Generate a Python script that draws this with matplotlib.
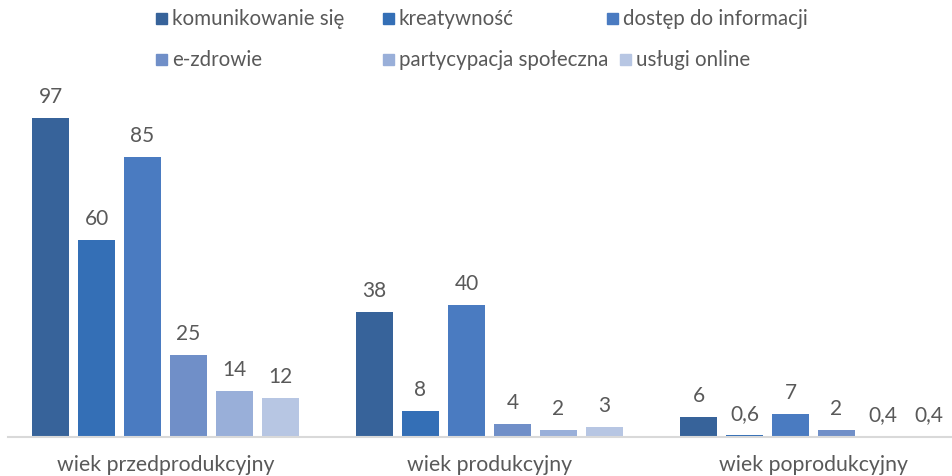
import matplotlib
matplotlib.use("Agg")
import matplotlib.pyplot as plt
import numpy as np
from matplotlib.patches import Rectangle

plt.rcParams['font.family'] = ['Lato', 'DejaVu Sans']

categories = ["wiek przedprodukcyjny", "wiek produkcyjny", "wiek poprodukcyjny"]
series_names = ["komunikowanie się", "kreatywność", "dostęp do informacji",
                "e-zdrowie", "partycypacja społeczna", "usługi online"]
komunikowanie = [97, 38, 6]
kreatywnosc = [60, 8, 0.6]
dostep = [85, 40, 7]
e_zdrowie = [25, 4, 2]
partycypacja = [14, 2, 0.4]
uslugi = [12, 3, 0.4]
series_values = [komunikowanie, kreatywnosc, dostep, e_zdrowie, partycypacja, uslugi]

colors = ["#37639A", "#346FB6", "#4A7BC1", "#708FC8", "#99AFD9", "#B7C6E3"]
text_color = "#595959"

W, H = 953, 477
fig = plt.figure(figsize=(W / 100, H / 100), dpi=100)

# axes: zero line 39 px above bottom, 3.29 px per unit
ax_bottom = 39
ax_height = 358
ax = fig.add_axes([0, ax_bottom / H, 1, ax_height / H])
px_per_cat = 324.0
x0_px = 165.5
ax.set_xlim(-x0_px / px_per_cat, (W - x0_px) / px_per_cat)
ax.set_ylim(0, ax_height / 3.29)

step = 46 / px_per_cat
bar_w = 37 / px_per_cat
x = np.arange(len(categories))

def fmt(v):
    s = f"{v:g}"
    return s.replace(".", ",")

for k, (vals, col) in enumerate(zip(series_values, colors)):
    pos = x + (k - 2.5) * step
    ax.bar(pos, vals, width=bar_w, color=col, linewidth=0, zorder=2)
    for px, v in zip(pos, vals):
        ax.annotate(fmt(v), (px, v), xytext=(0, 11.5), textcoords="offset points",
                    ha="center", va="baseline", fontsize=15, color=text_color)

for s in ["top", "left", "right"]:
    ax.spines[s].set_visible(False)
ax.spines["bottom"].set_color("#D9D9D9")
ax.spines["bottom"].set_linewidth(1.5)
ax.spines["bottom"].set_zorder(3)
ax.spines["bottom"].set_bounds(-x0_px / px_per_cat + 8 / px_per_cat,
                              (W - x0_px) / px_per_cat)
ax.set_yticks([])
ax.set_xticks(x)
ax.set_xticklabels(categories, fontsize=15.3, color=text_color)
ax.tick_params(axis="x", length=0, pad=12)

# legend entries placed in two rows
legend_pos = [(156, 19), (383, 19), (607, 19), (156, 60), (383, 60), (620, 60)]
for (lx, ly), name, col in zip(legend_pos, series_names, colors):
    fig.patches.append(Rectangle((lx / W, 1 - (ly + 5.5) / H), 11 / W, 11 / H,
                                 transform=fig.transFigure, color=col))
    fig.text((lx + 16) / W, 1 - ly / H, name, fontsize=14.8, color=text_color,
             ha="left", va="center")

fig.savefig("out.png", dpi=100)
